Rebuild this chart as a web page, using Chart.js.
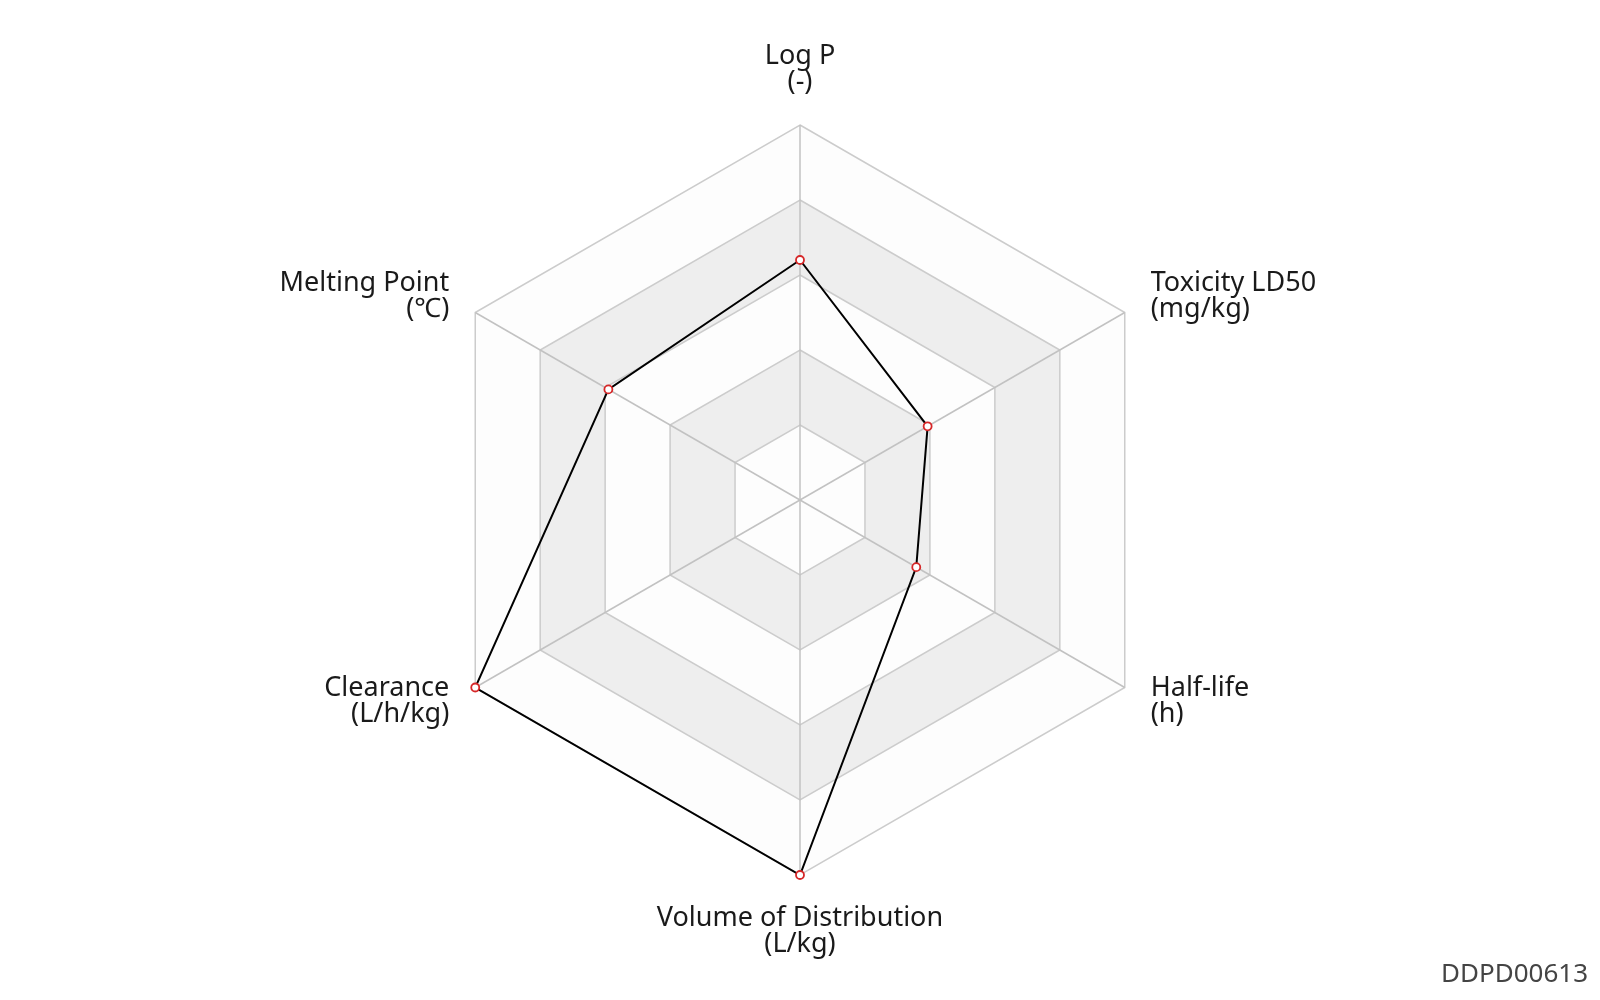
<!DOCTYPE html>
<html>
<head>
<meta charset="utf-8">
<script src="https://cdn.jsdelivr.net/npm/chart.js@4"></script>
<style>
  html, body { margin: 0; padding: 0; background: #fff; }
  #wrap { position: relative; width: 1600px; height: 1000px; }
  #code { position: absolute; right: 12px; bottom: 10px; font: 26px "Noto Sans", sans-serif; color: #444; }
</style>
</head>
<body>
<div id="wrap">
  <canvas id="radar"></canvas>
  <div id="code">DDPD00613</div>
</div>
<script>
'use strict';

// axes (clockwise from top) and their units
const categories = ['Log P', 'Toxicity LD50', 'Half-life', 'Volume of Distribution', 'Clearance', 'Melting Point'];
const units = ['(-)', '(mg/kg)', '(h)', '(L/kg)', '(L/h/kg)', '(\u2103)'];
// normalised values (0..1)
const values = [0.64, 0.393, 0.358, 1.0, 1.0, 0.59];
// ring levels
const ringTicks = [0.2, 0.4, 0.6, 0.8, 1.0];

const FONT = '"Noto Sans", "DejaVu Sans", sans-serif';

// alternating bands under the grid
const bandsPlugin = {
  id: 'bands',
  beforeDraw(chart) {
    const s = chart.scales.r;
    const ctx = chart.ctx;
    const n = categories.length;
    ctx.save();
    for (let k = ringTicks.length - 1; k >= 0; k--) {
      ctx.beginPath();
      for (let i = 0; i < n; i++) {
        const p = s.getPointPositionForValue(i, ringTicks[k]);
        if (i === 0) ctx.moveTo(p.x, p.y); else ctx.lineTo(p.x, p.y);
      }
      ctx.closePath();
      // outermost band is white-ish, then alternate
      ctx.fillStyle = ((ringTicks.length - 1 - k) % 2 === 0) ? '#fdfdfd' : '#eeeeee';
      ctx.fill();
    }
    ctx.restore();
  }
};

// axis titles: two lines, name + unit
const labelPlugin = {
  id: 'axisTitles',
  afterDraw(chart) {
    const s = chart.scales.r;
    const ctx = chart.ctx;
    const R = s.drawingArea;
    const lineH = 26;
    ctx.save();
    ctx.font = '27px ' + FONT;
    ctx.fillStyle = '#1a1a1a';
    ctx.textBaseline = 'middle';
    categories.forEach((name, i) => {
      const ang = s.getIndexAngle(i);
      const sin = Math.sin(ang);
      let x, cy;
      if (Math.abs(sin) < 0.01) {
        const p = s.getPointPosition(i, R + 56);
        x = p.x; cy = p.y;
        ctx.textAlign = 'center';
      } else {
        const p = s.getPointPosition(i, R + 30);
        x = p.x; cy = p.y - 1.5;
        ctx.textAlign = sin > 0 ? 'left' : 'right';
      }
      const lines = [name, units[i]];
      lines.forEach((t, k) => {
        ctx.fillText(t, x, cy + (k - (lines.length - 1) / 2) * lineH);
      });
    });
    ctx.restore();
  }
};

new Chart(document.getElementById('radar'), {
  type: 'radar',
  data: {
    labels: categories,
    datasets: [{
      data: values,
      borderColor: '#000',
      borderWidth: 2,
      fill: false,
      pointBackgroundColor: '#fff',
      pointBorderColor: '#d62728',
      pointBorderWidth: 1.8,
      pointRadius: 4,
    }],
  },
  options: {
    responsive: true,
    maintainAspectRatio: false,
    animation: false,
    devicePixelRatio: 1,
    layout: { padding: { top: 125, bottom: 125 } },
    plugins: {
      legend: { display: false },
      tooltip: { enabled: false },
    },
    scales: {
      r: {
        min: 0,
        max: 1,
        ticks: { display: false, stepSize: 0.2 },
        grid: { color: '#cccccc', lineWidth: 1.5 },
        angleLines: { color: '#c2c2c2', lineWidth: 1.5 },
        pointLabels: { display: false },
      },
    },
  },
  plugins: [bandsPlugin, labelPlugin],
});
</script>
</body>
</html>
